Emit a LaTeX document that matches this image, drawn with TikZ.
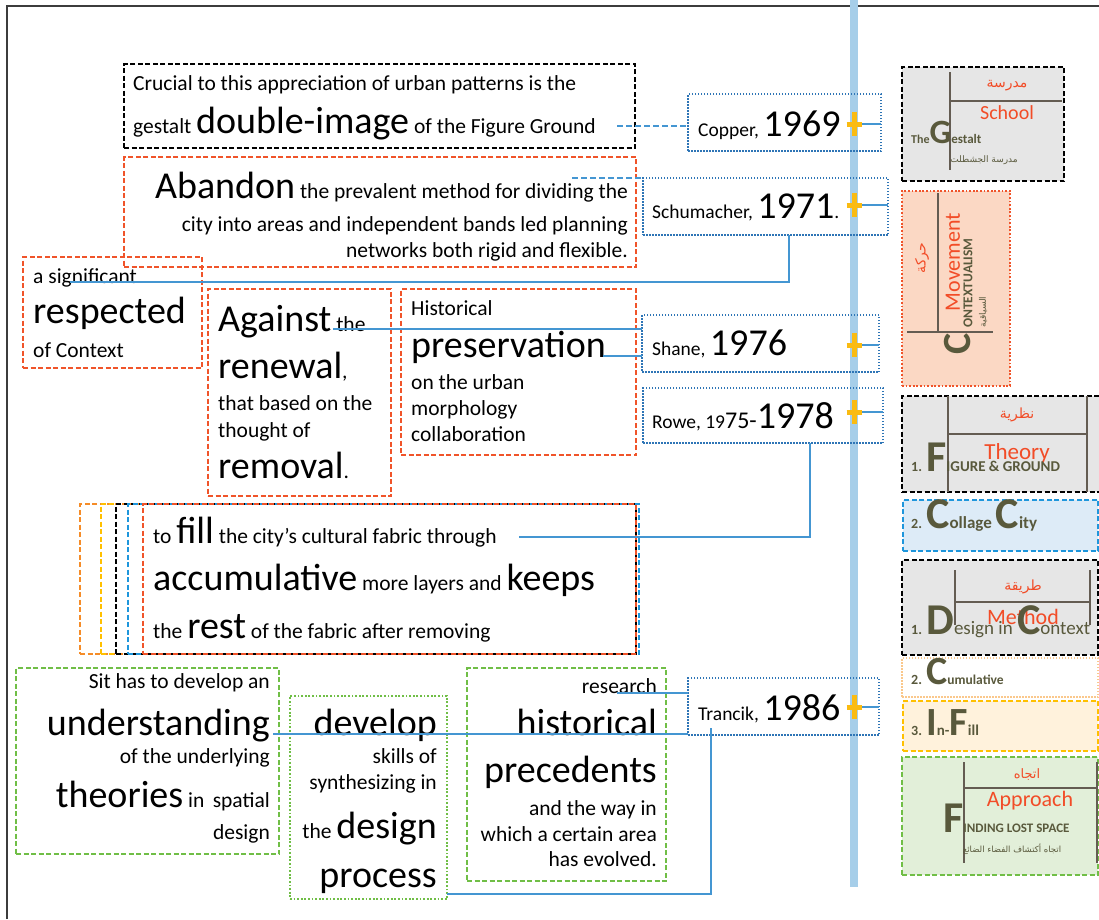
\documentclass[tikz,border=0pt]{standalone}
\usepackage{fontspec}
\setmainfont{Carlito}
\newfontfamily\arabicfont[Script=Arabic]{DejaVu Sans}
\TeXXeTstate=1
\usetikzlibrary{fit,calc}
\definecolor{myred}{RGB}{240,84,42}
\definecolor{rtred}{RGB}{242,76,39}
\definecolor{dotblue}{RGB}{46,117,182}
\definecolor{connblue}{RGB}{68,150,210}
\definecolor{tlblue}{RGB}{166,206,233}
\definecolor{plusy}{RGB}{250,187,18}
\definecolor{grn}{RGB}{112,190,70}
\definecolor{olive}{RGB}{89,89,60}
\definecolor{boxgray}{RGB}{230,230,230}
\definecolor{peach}{RGB}{251,216,196}
\definecolor{ltblue}{RGB}{221,235,247}
\definecolor{ltyellow}{RGB}{255,242,220}
\definecolor{ltgreen}{RGB}{226,239,217}
\definecolor{orng}{RGB}{245,140,40}
\definecolor{yel}{RGB}{255,192,0}
\definecolor{cumor}{RGB}{250,200,140}
\definecolor{linegray}{RGB}{100,92,82}
\definecolor{framegray}{RGB}{60,60,60}
\definecolor{cityblue}{RGB}{30,150,220}
\newcommand\fz[1]{\fontsize{#1}{#1}\selectfont}
\newcommand\bigw{\fz{38}}
\newcommand\yrs{\fz{19.5}}
\begin{document}
\begin{tikzpicture}[x=1pt,y=-1pt,
 box/.style={inner sep=0pt,outer sep=0pt},
 kdash/.style={box,draw=black,line width=1.8pt,dash pattern=on 5pt off 2.5pt},
 kdashb/.style={box,draw=black,line width=2.5pt,dash pattern=on 5pt off 2.5pt},
 rdash/.style={box,draw=myred,line width=1.8pt,dash pattern=on 5pt off 2.5pt},
 bdot/.style={box,draw=dotblue,line width=2pt,dash pattern=on 1.5pt off 1.5pt},
 gdash/.style={box,draw=grn,line width=2pt,dash pattern=on 5pt off 2.5pt},
 gdot/.style={box,draw=grn,line width=2.5pt,dash pattern=on 1.8pt off 1.8pt},
 tl/.style={inner sep=0pt,anchor=base west,font=\fz{21.5}},
 tr/.style={inner sep=0pt,anchor=base east,font=\fz{21.5}},
 yl/.style={inner sep=0pt,anchor=base west,font=\yrs},
 conn/.style={draw=connblue,line width=1.1pt},
 conndash/.style={draw=connblue,line width=1.8pt,dash pattern=on 6pt off 3pt},
 inl/.style={draw=linegray,line width=1.3pt},
 ol/.style={inner sep=0pt,anchor=base west,text=olive,font=\bfseries},
 rt/.style={inner sep=0pt,text=rtred},
 plusbar/.style={draw=plusy,line width=5pt},
]
\useasboundingbox (0,0) rectangle (1099,919);
\fill[white] (0,0) rectangle (1099,919);
% frame
\draw[framegray,line width=1.5pt] (7,919) -- (7,6) -- (1099,6);

% timeline
\coordinate (tltop) at (854,0);
\coordinate (tlbot) at (854,887);
\draw[tlblue,line width=7.5pt] (tltop) -- (tlbot);

% ---------- year boxes ----------
\node[bdot,fit={(688,94)(881,151)}] (y69) {};
\node[yl] (y69t) at (698,136) {Copper, {\bigw 1969}};
\node[bdot,fit={(643,178)(888,235)}] (y71) {};
\node[yl] (y71t) at (652,218) {Schumacher, {\bigw 1971}.};
\node[bdot,fit={(642,315)(879,372)}] (y76) {};
\node[yl] (y76t) at (652,355) {Shane, {\bigw 1976}};
\node[bdot,fit={(643,388)(883,443)}] (y78) {};
\node[yl] (y78t) at (652,428) {Rowe, {\fz{19.5}19}{\fz{24}75-}{\bigw 1978}};
\node[bdot,fit={(688,678)(879,735)}] (y86) {};
\node[yl] (y86t) at (698,720) {Trancik, {\bigw 1986}};

% plus markers
\foreach \n/\yy in {p1/124,p2/205,p3/345,p4/412,p5/707}{
  \coordinate (\n) at (854,\yy);
}
\draw[conn] (p1) -- (p1 -| y69.east);
\draw[conn] (p2) -- (p2 -| y71.east);
\draw[conn] (p3) -- (p3 -| y76.east);
\draw[conn] (p4) -- (p4 -| y78.east);
\draw[conn] (p5) -- (p5 -| y86.east);
\foreach \n in {p1,p2,p3,p4,p5}{
  \draw[plusbar] ($(\n)+(-7.5,0)$) -- ($(\n)+(7.5,0)$);
  \draw[plusbar] ($(\n)+(0,-12)$) -- ($(\n)+(0,12)$);
}

% ---------- left text boxes ----------
\node[kdash,fit={(124,64)(635,148)}] (b1) {};
\node[tl] (b1a) at (133,90) {Crucial to this appreciation of urban patterns is the};
\node[tl] (b1b) at (133,133) {gestalt {\bigw double-image} of the Figure Ground};

\node[rdash,fit={(124,157)(636,267)}] (b2) {};
\node[tr] (b2a) at (628,198) {{\bigw Abandon} the prevalent method for dividing the};
\node[tr] (b2b) at (628,231) {city into areas and independent bands led planning};
\node[tr] (b2c) at (628,257) {networks both rigid and flexible.};

\node[rdash,fit={(23,257)(202,368)}] (b3) {};
\node[tl] (b3a) at (33,283) {a significant};
\node[tl] (b3b) at (33,323) {\bigw respected};
\node[tl] (b3c) at (33,357) {of Context};

\node[rdash,fit={(208,289)(391,496)}] (b4) {};
\node[tl] (b4a) at (218,331) {{\bigw Against} the};
\node[tl] (b4b) at (218,378) {{\bigw renewal},};
\node[tl] (b4c) at (218,410) {that based on the};
\node[tl] (b4d) at (218,437) {thought of};
\node[tl] (b4e) at (218,478) {{\bigw removal}.};

\node[rdash,fit={(401,289)(636,455)}] (b5) {};
\node[tl] (b5a) at (411,315) {Historical};
\node[tl] (b5b) at (411,357) {\bigw preservation};
\node[tl] (b5c) at (411,389) {on the urban};
\node[tl] (b5d) at (411,415) {morphology};
\node[tl] (b5e) at (411,441) {collaboration};

% stacked boxes
\node[box,draw=orng,line width=1.8pt,dash pattern=on 5pt off 2.5pt,fit={(80,504)(636,654)}] (s1) {};
\node[box,draw=yel,line width=1.8pt,dash pattern=on 5pt off 2.5pt,fit={(101,504)(636,654)}] (s2) {};
\node[box,draw=black,line width=1.6pt,dash pattern=on 5pt off 2.5pt,fit={(116,504)(636,654)}] (s3) {};
\node[box,draw=cityblue,line width=1.6pt,dash pattern=on 5pt off 2.5pt,fit={(128,504)(639,654)}] (s4) {};
\node[box,draw=myred,line width=1.8pt,dash pattern=on 5pt off 2.5pt,fit={(143,504)(636,654)}] (s5) {};
\node[tl] (s5a) at (153,543) {to {\bigw fill} the city's cultural fabric through};
\node[tl] (s5b) at (153,590) {{\bigw accumulative} more layers and {\bigw keeps}};
\node[tl] (s5c) at (153,638) {the {\bigw rest} of the fabric after removing};

% green boxes
\node[gdash,fit={(16,668)(279,854)}] (b7) {};
\node[tr] (b7a) at (270,688) {Sit has to develop an};
\node[tr] (b7b) at (270,735) {\bigw understanding};
\node[tr] (b7c) at (270,763) {of the underlying};
\node[tr] (b7d) at (270,807) {{\bigw theories} in\ \,spatial};
\node[tr] (b7e) at (270,839) {design};

\node[gdot,fit={(290,696)(447,899)}] (b8) {};
\node[tr] (b8a) at (437,735) {\bigw develop};
\node[tr] (b8b) at (437,763) {skills of};
\node[tr] (b8c) at (437,789) {synthesizing in};
\node[tr] (b8d) at (437,838) {the {\bigw design}};
\node[tr] (b8e) at (437,887) {\bigw process};

\node[gdash,fit={(467,668)(666,881)}] (b9) {};
\node[tr] (b9a) at (657,693) {research};
\node[tr] (b9b) at (657,735) {\bigw historical};
\node[tr] (b9c) at (657,782) {\bigw precedents};
\node[tr] (b9d) at (657,815) {and the way in};
\node[tr] (b9e) at (657,841) {which a certain area};
\node[tr] (b9f) at (657,866) {has evolved.};

% ---------- connectors ----------
\coordinate (c1) at (617,126);
\draw[conndash] (c1) -- (c1 -| y69.west);
\coordinate (c2) at (572,178);
\draw[conndash] (c2) -- (y71.north west);
\coordinate (c3) at (70,282);
\draw[conn] (c3) -| ([xshift=146pt]y71.south west);
\coordinate (c4) at (333,329);
\draw[conn] (c4) -- (c4 -| y76.west);
\coordinate (c5) at (603,356);
\draw[conn] (c5) -- (c5 -| y76.west);
\coordinate (c6) at (519,537);
\draw[conn] (c6) -| ([xshift=167pt]y78.south west);
\coordinate (c7) at (617,693);
\draw[conn] (c7) -- (c7 -| y86.west);
\coordinate (c8) at (273,734);
\draw[conn] (c8) -- (c8 -| y86.west);
\coordinate (c9) at (447,894);
\draw[conn] (c9) -| ([xshift=23pt,yshift=7pt]y86.south west);

% ---------- right column ----------
% Gestalt school
\node[kdashb,fill=boxgray,fit={(902,67)(1064,181)}] (r1) {};
\draw[inl] (950,72) -- (950,170);
\draw[inl] (950,101) -- (1062,101);
\node[rt,font=\fz{14}] (r1a) at (1007,86) {\arabicfont\beginR مدرسة\endR};
\node[rt,font=\fz{20}] (r1b) at (1007,113) {School};
\node[ol] (r1c) at (911,143) {\fz{12}The\fz{34}G\fz{13}estalt};
\node[inner sep=0pt,text=olive,font=\fz{9}] (r1d) at (984,160) {\arabicfont\beginR مدرسة الجشطلت\endR};

% Movement
\node[box,draw=myred,line width=2.5pt,dash pattern=on 1.8pt off 1.8pt,fill=peach,fit={(902,191)(1010,386)}] (r2) {};
\draw[inl] (938,193) -- (938,332);
\draw[inl] (907,332) -- (993,332);
\node[rt,rotate=90,font=\fz{22}] (r2a) at (953,262) {Movement};
\node[inner sep=0pt,rotate=90,anchor=west,text=olive,font=\bfseries\fz{13.5}] (r2b) at (968,328) {ONTEXTUALISM};
\node[inner sep=0pt,rotate=90,text=olive,font=\bfseries\fz{40}] (r2c) at (958,344) {C};
\node[rt,rotate=90,font=\fz{14}] (r2d) at (922,258) {\arabicfont\beginR حركة\endR};
\node[inner sep=0pt,rotate=90,text=olive,font=\fz{9}] (r2e) at (983,312) {\arabicfont\beginR السياقية\endR};

% Theory
\node[kdashb,fill=boxgray,fit={(902,396)(1110,492)}] (r3) {};
\draw[inl] (948,396) -- (948,492);
\draw[inl] (1087,396) -- (1087,492);
\draw[inl] (948,434) -- (1087,434);
\node[rt,font=\fz{14}] (r3a) at (1017,415) {\arabicfont\beginR نظرية\endR};
\node[rt,font=\fz{23}] (r3b) at (1017,453) {Theory};
\node[ol] (r3c) at (911,471) {\fz{14}1. \fz{44}F\fz{15}IGURE \& GROUND};

% Collage city
\node[box,draw=cityblue,line width=2pt,dash pattern=on 5pt off 2.5pt,fill=ltblue,fit={(903,500)(1098,551)}] (r4) {};
\node[ol] (r4a) at (911,528) {\fz{14}2. \fz{44}C\fz{17}ollage \fz{44}C\fz{17}ity};

% Method
\node[kdashb,fill=boxgray,fit={(902,560)(1098,655)}] (r5) {};
\draw[inl] (955,570) -- (955,625);
\draw[inl] (1090,570) -- (1090,625);
\draw[inl] (955,602) -- (1090,602);
\node[rt,font=\fz{14}] (r5a) at (1023,587) {\arabicfont\beginR طريقة\endR};
\node[rt,font=\fz{22}] (r5b) at (1023,617) {Method};
\node[inner sep=0pt,anchor=base west,text=olive] (r5c) at (911,634) {{\bfseries\fz{14}1. }{\bfseries\fz{44}D}{\fz{19}esign in }{\bfseries\fz{44}C}{\fz{19}ontext}};

% Cumulative
\node[box,draw=cumor,line width=2pt,dash pattern=on 1.5pt off 1.5pt,fill=white,fit={(902,658)(1098,697)}] (r6) {};
\node[ol] (r6a) at (911,684) {\fz{14}2. \fz{40}C\fz{13.5}umulative};

% In-Fill
\node[box,draw=yel,line width=2pt,dash pattern=on 5pt off 2.5pt,fill=ltyellow,fit={(903,701)(1098,751)}] (r7) {};
\node[ol] (r7a) at (911,735) {\fz{14}3. \fz{40}I\fz{15}n-\fz{40}F\fz{15}ill};

% Approach
\node[gdash,fill=ltgreen,fit={(902,757)(1098,875)}] (r8) {};
\draw[inl] (964,762) -- (964,863);
\draw[inl] (1097,762) -- (1097,863);
\draw[inl] (964,788) -- (1097,788);
\node[rt,font=\fz{13}] (r8a) at (1027,774) {\arabicfont\beginR اتجاه\endR};
\node[rt,font=\fz{22}] (r8b) at (1030,801) {Approach};
\node[ol] (r8c) at (943,832) {\fz{44}F\fz{13}INDING LOST SPACE};
\node[inner sep=0pt,text=olive,font=\fz{8.5}] (r8d) at (1012,849) {\arabicfont\beginR اتجاه أكتشاف الفضاء الضائع\endR};
\end{tikzpicture}
\end{document}
